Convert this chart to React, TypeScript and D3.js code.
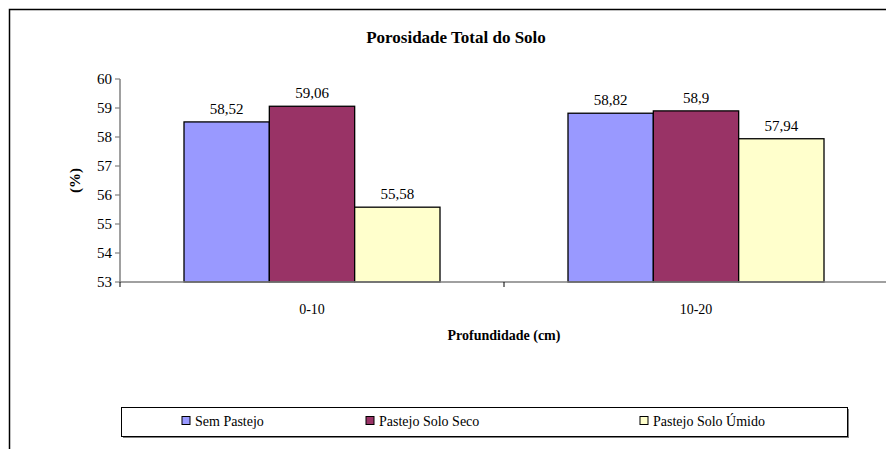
import React from "react";
import * as d3 from "d3";

const categories = ["0-10", "10-20"];
const seriesNames = ["Sem Pastejo", "Pastejo Solo Seco", "Pastejo Solo Úmido"];
const semPastejo = [58.52, 58.82];
const pastejoSeco = [59.06, 58.9];
const pastejoUmido = [55.58, 57.94];
const valueLabels = [["58,52", "58,82"], ["59,06", "58,9"], ["55,58", "57,94"]];
const yTicks = [53, 54, 55, 56, 57, 58, 59, 60];
const colors = ["#9999FF", "#993366", "#FFFFCC"];

const W = 886;
const H = 449;
const FONT = "Liberation Serif";

export default function App() {
  const series = [semPastejo, pastejoSeco, pastejoUmido];
  const left = 120, right = 888, top = 79, bottom = 282;
  const x0 = d3.scaleBand<string>().domain(categories).range([left, right]).paddingInner(0).paddingOuter(0);
  const bw = x0.bandwidth();
  const barW = bw / 4.5;
  const x1 = d3.scaleBand<string>().domain(seriesNames).range([0, barW * 3]);
  const y = d3.scaleLinear().domain([53, 60]).range([bottom, top]);
  const axisColor = "#808080";

  const legendItems = [
    { name: seriesNames[0], x: 183 },
    { name: seriesNames[1], x: 367 },
    { name: seriesNames[2], x: 641 },
  ];

  return (
    <svg width={W} height={H} style={{ position: "absolute", left: 0, top: 0, background: "#fff" }}>
      <style>{`text { font-family: 'Liberation Serif', 'Times New Roman', serif !important; }`}</style>
      <rect x={9.5} y={9.5} width={W + 10} height={H + 10} fill="#fff" stroke="#000" strokeWidth={1.5} />
      <text fontFamily={FONT} x={456} y={43} textAnchor="middle" fontSize={17} fontWeight="bold">Porosidade Total do Solo</text>

      {/* y axis */}
      <line x1={left} x2={left} y1={top} y2={bottom} stroke={axisColor} strokeWidth={1.5} />
      {yTicks.map((t) => (
        <g key={t}>
          <line x1={left - 5} x2={left} y1={y(t)} y2={y(t)} stroke={axisColor} strokeWidth={1.2} />
          <text fontFamily={FONT} x={left - 8} y={y(t) + 5} textAnchor="end" fontSize={15}>{t}</text>
        </g>
      ))}
      <text fontFamily={FONT} transform={`translate(80,${(top + bottom) / 2}) rotate(-90)`} textAnchor="middle" fontSize={15} fontWeight="bold">(%)</text>

      {/* bars */}
      {categories.map((c, ci) => {
        const gx = (x0(c) as number) + (bw - barW * 3) / 2;
        return series.map((s, si) => {
          const bx = gx + (x1(seriesNames[si]) as number);
          const v = s[ci];
          return (
            <g key={`${ci}-${si}`}>
              <rect x={bx} y={y(v)} width={barW} height={y(53) - y(v)} fill={colors[si]} stroke="#000" strokeWidth={1.3} />
              <text fontFamily={FONT} x={bx + barW / 2} y={y(v) - 8} textAnchor="middle" fontSize={15}>{valueLabels[si][ci]}</text>
            </g>
          );
        });
      })}

      {/* x axis */}
      <line x1={left} x2={right} y1={bottom} y2={bottom} stroke={axisColor} strokeWidth={1.5} />
      {[left, left + bw, right].map((tx, i) => (
        <line key={i} x1={tx} x2={tx} y1={bottom} y2={bottom + 5} stroke="#000" strokeWidth={1} />
      ))}
      {categories.map((c) => (
        <text fontFamily={FONT} key={c} x={(x0(c) as number) + bw / 2} y={314} textAnchor="middle" fontSize={14}>{c}</text>
      ))}
      <text fontFamily={FONT} x={504} y={340} textAnchor="middle" fontSize={14} fontWeight="bold">Profundidade (cm)</text>

      {/* legend */}
      <rect x={123} y={409} width={726} height={29} fill="#808080" />
      <rect x={121.5} y={407.5} width={726} height={29} fill="#fff" stroke="#000" strokeWidth={1} />
      {legendItems.map((it, i) => (
        <g key={it.name}>
          <rect x={it.x - 1} y={416.5} width={8} height={8} fill={colors[i]} stroke="#000" strokeWidth={1} />
          <text fontFamily={FONT} x={it.x + 12} y={426} fontSize={14}>{it.name}</text>
        </g>
      ))}
    </svg>
  );
}
